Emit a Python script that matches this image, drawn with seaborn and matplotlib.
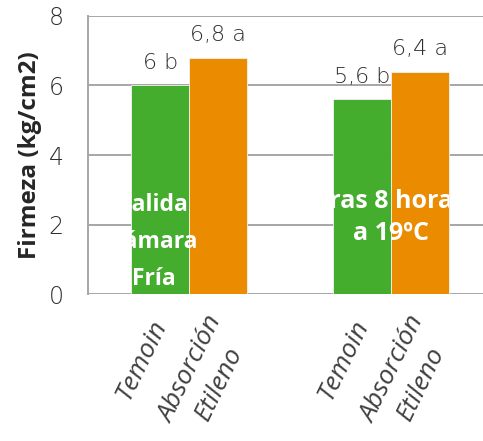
import numpy as np
import matplotlib
matplotlib.use("Agg")
import matplotlib.pyplot as plt
import pandas as pd
import seaborn as sns
from matplotlib.transforms import Bbox, TransformedBbox

# data
groups = ["Salida\nCámara\nFría", "Tras 8 horas\na 19ºC"]
treatments = ["Temoin", "Absorción\nEtileno"]
temoin = [6.0, 5.6]
absorcion = [6.8, 6.4]
temoin_letters = ["6 b", "5,6 b"]
absorcion_letters = ["6,8 a", "6,4 a"]

colors = ["#44AD2E", "#EB8B00"]
grid_c = "#A6A6A6"
text_c = "#404040"
num_c = "#2E2E2E"
num_font = ["DejaVu Sans"]

df = pd.DataFrame({
    "grupo": groups * 2,
    "trat": [treatments[0]] * 2 + [treatments[1]] * 2,
    "firmeza": temoin + absorcion,
    "etiqueta": temoin_letters + absorcion_letters,
})

sns.set_style("white")
plt.rcParams["font.family"] = ["Open Sans", "DejaVu Sans"]

fig = plt.figure(figsize=(4.83, 4.41), dpi=100)
ax = fig.add_axes([0.182, 0.333, 0.818, 0.631])

sns.barplot(data=df, x="grupo", y="firmeza", hue="trat", order=groups,
            hue_order=treatments, palette=colors, saturation=1, width=0.57,
            gap=0, linewidth=0.6, edgecolor="#F2F2F2", legend=False, ax=ax,
            zorder=3)

ax.set_ylim(0, 8)
ax.set_xlim(-0.5, 1.455)
ax.set_yticks([0, 2, 4, 6, 8])
ax.yaxis.grid(True, color=grid_c, linewidth=1.4, zorder=0)
ax.xaxis.grid(False)
for s in ["top", "right", "bottom"]:
    ax.spines[s].set_visible(False)
ax.spines["left"].set_color(grid_c)
ax.spines["left"].set_linewidth(1.4)
ax.tick_params(axis="y", length=6.5, width=1.4, color=grid_c, labelsize=17,
               labelcolor=num_c, pad=11)
for lab in ax.get_yticklabels():
    lab.set_family(num_font)
    lab.set_fontweight("light")
ax.set_ylabel("Firmeza (kg/cm2)", fontsize=17.5, fontweight="bold",
              color="#262626", labelpad=5)
ax.set_xlabel("")

# bars sorted left to right
bars = sorted(ax.patches, key=lambda p: p.get_x())
centers = [b.get_x() + b.get_width() / 2 for b in bars]
labels = [treatments[0], treatments[1], treatments[0], treatments[1]]
ax.set_xticks(centers)
ax.set_xticklabels([])
ax.tick_params(axis="x", length=0)

# rotated category labels under each bar
for c, lab in zip(centers, labels):
    two = "\n" in lab
    off = (9, -22) if two else (0, -19.5)
    ax.annotate(lab, (c, 0), xytext=off, textcoords="offset points",
                rotation=64, rotation_mode="anchor", ha="right", va="center",
                multialignment="center", style="italic", fontsize=19,
                color=text_c, linespacing=1.35, annotation_clip=False)

# value + letter labels above each bar
vals = [temoin[0], absorcion[0], temoin[1], absorcion[1]]
lets = [temoin_letters[0], absorcion_letters[0], temoin_letters[1], absorcion_letters[1]]
for c, v, t in zip(centers, vals, lets):
    ax.annotate(t, (c, v), xytext=(0, 12), textcoords="offset points",
                ha="center", va="baseline", fontsize=16, color=num_c,
                family=num_font, fontweight="light")

# white group titles, clipped to the bars of each group
text_x = [-0.173, 1.0]
text_y = [1.5, 2.2]
text_size = [16.5, 18]
text_ls = [1.7, 1.4]
for i, g in enumerate(groups):
    left = bars[2 * i]
    right = bars[2 * i + 1]
    x0 = left.get_x()
    x1 = right.get_x() + right.get_width()
    t = ax.text(text_x[i], text_y[i], g, ha="center", va="center",
                color="white", fontsize=text_size[i], fontweight="bold",
                linespacing=text_ls[i], zorder=5)
    t.set_clip_box(TransformedBbox(Bbox([[x0, 0], [x1, 8]]), ax.transData))
    t.set_clip_on(True)

fig.savefig("out.png", dpi=100)
